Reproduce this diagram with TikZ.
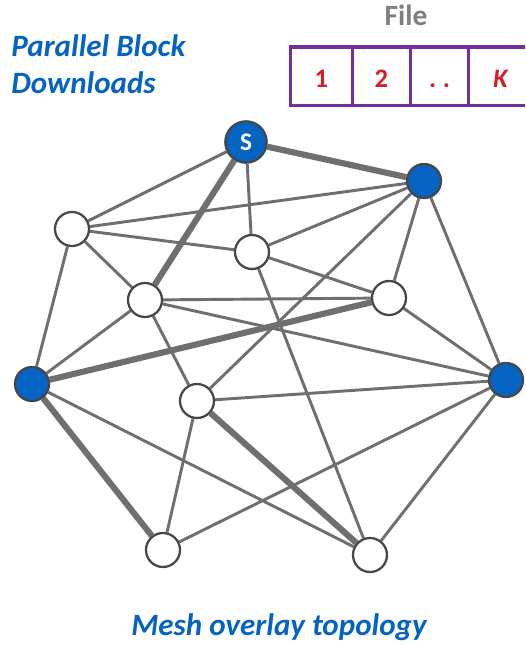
\documentclass[tikz,border=0pt]{standalone}
\usepackage{fontspec}
\setmainfont{Carlito}
\usetikzlibrary{positioning, backgrounds}
\definecolor{meshblue}{HTML}{0563C1}
\definecolor{meshgray}{HTML}{6F6F6F}
\definecolor{meshrim}{HTML}{474747}
\definecolor{filepurple}{HTML}{7030A0}
\definecolor{filered}{HTML}{D0202A}
\definecolor{filegray}{HTML}{7F7F7F}

\begin{document}
\begin{tikzpicture}[
  x=0.75pt, y=-0.75pt,
  peer/.style={circle, draw=meshrim, line width=1.7pt, fill=white, minimum size=25.5pt, inner sep=0pt},
  seeder/.style={peer, fill=meshblue},
  link/.style={draw=meshgray, line width=2.2pt},
  flow/.style={draw=meshgray, line width=4.6pt},
  caption/.style={font=\fontsize{23.3}{27.75}\selectfont\bfseries\itshape, text=meshblue, inner sep=0pt},
  block/.style={draw=filepurple, line width=2.4pt, outer sep=0pt, minimum width=43.5pt, minimum height=44pt,
    text height=16pt, text depth=0pt, font=\fontsize{20}{22}\selectfont\bfseries, text=filered}
]
\useasboundingbox (0,0) rectangle (525,646);
\clip (0,0) rectangle (525,646);

% captions
\node[caption, anchor=north west, align=left] (title) at (11,34) {Parallel Block\\Downloads};
\node[caption, anchor=base] (topo) at (279,635) {Mesh overlay topology};

% the file split into K blocks
\node[block, anchor=north west, minimum width=46.5pt] (b1) at (290.5,47) {1};
\node[block, right=0pt of b1] (b2) {2};
\node[block, right=0pt of b2] (b3) {.\hspace{5pt}.};
\node[block, right=0pt of b3, minimum width=48pt] (bk) {\itshape K};
\node[font=\fontsize{22}{24}\selectfont\bfseries, text=filegray, anchor=base, inner sep=0pt] (file) at (406,26) {File};

% peers
\node[seeder, minimum size=31pt, text=white, font=\fontsize{19}{20}\selectfont\bfseries] (s) at (246,142) {S};
\node[seeder] (p1) at (424,181) {};
\node[peer] (p2) at (72,229) {};
\node[peer] (p3) at (252,252) {};
\node[peer] (p4) at (145,300) {};
\node[peer] (p5) at (389,298) {};
\node[seeder] (p6) at (32,384) {};
\node[seeder] (p7) at (506,380) {};
\node[peer] (p8) at (197,401) {};
\node[peer] (p9) at (163,550) {};
\node[peer] (p10) at (370,555) {};

% overlay links
\begin{scope}[on background layer]
  \draw[link] (s) -- (p2) (s) -- (p3);
  \draw[link] (p2) -- (p1) (p2) -- (p3) (p2) -- (p4) (p2) -- (p6);
  \draw[link] (p3) -- (p1) (p3) -- (p5) (p3) -- (p10);
  \draw[link] (p1) -- (p8) (p1) -- (p5) (p1) -- (p7);
  \draw[link] (p4) -- (p5) (p4) -- (p7) (p4) -- (p8) (p4) -- (p6);
  \draw[link] (p5) -- (p7) (p8) -- (p7) (p8) -- (p9);
  \draw[link] (p6) -- (p10) (p9) -- (p7) (p10) -- (p7);
  % block download paths
  \draw[flow] (s) -- (p4) (s) -- (p1) (p6) -- (p5);
  \draw[flow] (p8) -- (p10) (p6) -- (p9);
\end{scope}
\end{tikzpicture}
\end{document}
